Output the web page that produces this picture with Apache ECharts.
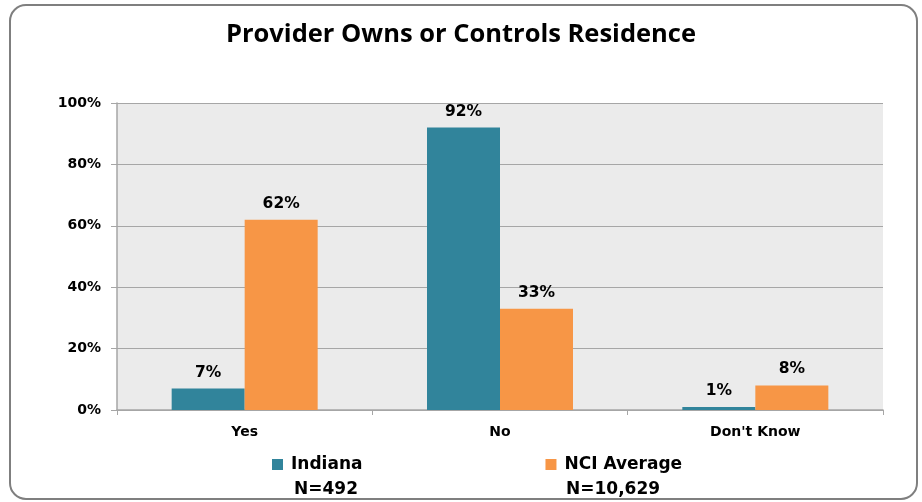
<!DOCTYPE html>
<html>
<head>
<meta charset="utf-8">
<script src="https://cdn.jsdelivr.net/npm/echarts@6/dist/echarts.min.js"></script>
<style>
  html, body { margin: 0; padding: 0; background: #fff; }
  #chart { width: 922px; height: 502px; }
</style>
</head>
<body>
<div id="chart"></div>
<script>
const categories = ["Yes", "No", "Don't Know"];
const indiana = [7, 92, 1];
const nciAverage = [62, 33, 8];
const seriesNames = ["Indiana", "NCI Average"];
const sampleSizes = ["N=492", "N=10,629"];
const yTicks = [0, 20, 40, 60, 80, 100];

const colors = { indiana: "#31849b", nci: "#f79646", grid: "#a6a6a6", text: "#000" };
const labelFont = "DejaVu Sans";

const chart = echarts.init(document.getElementById("chart"), null, { renderer: "canvas" });

const barLabel = {
  show: true,
  position: "top",
  distance: 8,
  formatter: "{c}%",
  color: colors.text,
  fontFamily: labelFont,
  fontWeight: "bold",
  fontSize: 15.5,
};

const option = {
  animation: false,
  backgroundColor: "#fff",
  title: {
    text: "Provider Owns or Controls Residence",
    left: "center",
    top: 17,
    textStyle: { fontFamily: "Open Sans", fontWeight: "bold", fontSize: 25.5, color: "#000" },
  },
  legend: {
    data: seriesNames,
    bottom: 24,
    left: 267,
    itemGap: 183,
    itemWidth: 11,
    itemHeight: 11,
    icon: "rect",
    textStyle: { fontFamily: labelFont, fontWeight: "bold", fontSize: 17, color: "#000", padding: [0, 0, 0, 3] },
  },
  graphic: [
    {
      type: "rect",
      silent: true,
      shape: { x: 10, y: 5, width: 907, height: 494, r: 16 },
      style: { fill: "none", stroke: "#7f7f7f", lineWidth: 2 },
    },
    {
      type: "text",
      left: 294,
      top: 481,
      style: { text: sampleSizes[0], font: "bold 17px 'DejaVu Sans'", fill: "#000" },
    },
    {
      type: "text",
      left: 566,
      top: 481,
      style: { text: sampleSizes[1], font: "bold 17px 'DejaVu Sans'", fill: "#000" },
    },
  ],
  grid: {
    left: 117,
    right: 39,
    top: 103,
    bottom: 92,
    show: true,
    backgroundColor: "#ebebeb",
    borderWidth: 0,
  },
  xAxis: {
    type: "category",
    data: categories,
    axisLine: { lineStyle: { color: colors.grid, width: 1.5 } },
    axisTick: { show: true, alignWithLabel: false, length: 5, lineStyle: { color: colors.grid } },
    axisLabel: {
      color: colors.text,
      fontFamily: labelFont,
      fontWeight: "bold",
      fontSize: 14,
      margin: 15,
    },
  },
  yAxis: {
    type: "value",
    min: 0,
    max: 100,
    interval: 20,
    axisLine: { show: true, lineStyle: { color: colors.grid, width: 1.5 } },
    axisTick: { show: true, length: 6, lineStyle: { color: colors.grid } },
    splitLine: { lineStyle: { color: colors.grid, width: 1 } },
    axisLabel: {
      color: colors.text,
      fontFamily: labelFont,
      fontWeight: "bold",
      fontSize: 14,
      margin: 16,
      formatter: (v) => (yTicks.includes(v) ? v + "%" : ""),
    },
  },
  series: [
    {
      name: seriesNames[0],
      type: "bar",
      data: indiana,
      barWidth: 73,
      barGap: "0%",
      itemStyle: { color: colors.indiana },
      label: barLabel,
    },
    {
      name: seriesNames[1],
      type: "bar",
      data: nciAverage,
      barWidth: 73,
      itemStyle: { color: colors.nci },
      label: barLabel,
    },
  ],
};

chart.setOption(option);
</script>
</body>
</html>
